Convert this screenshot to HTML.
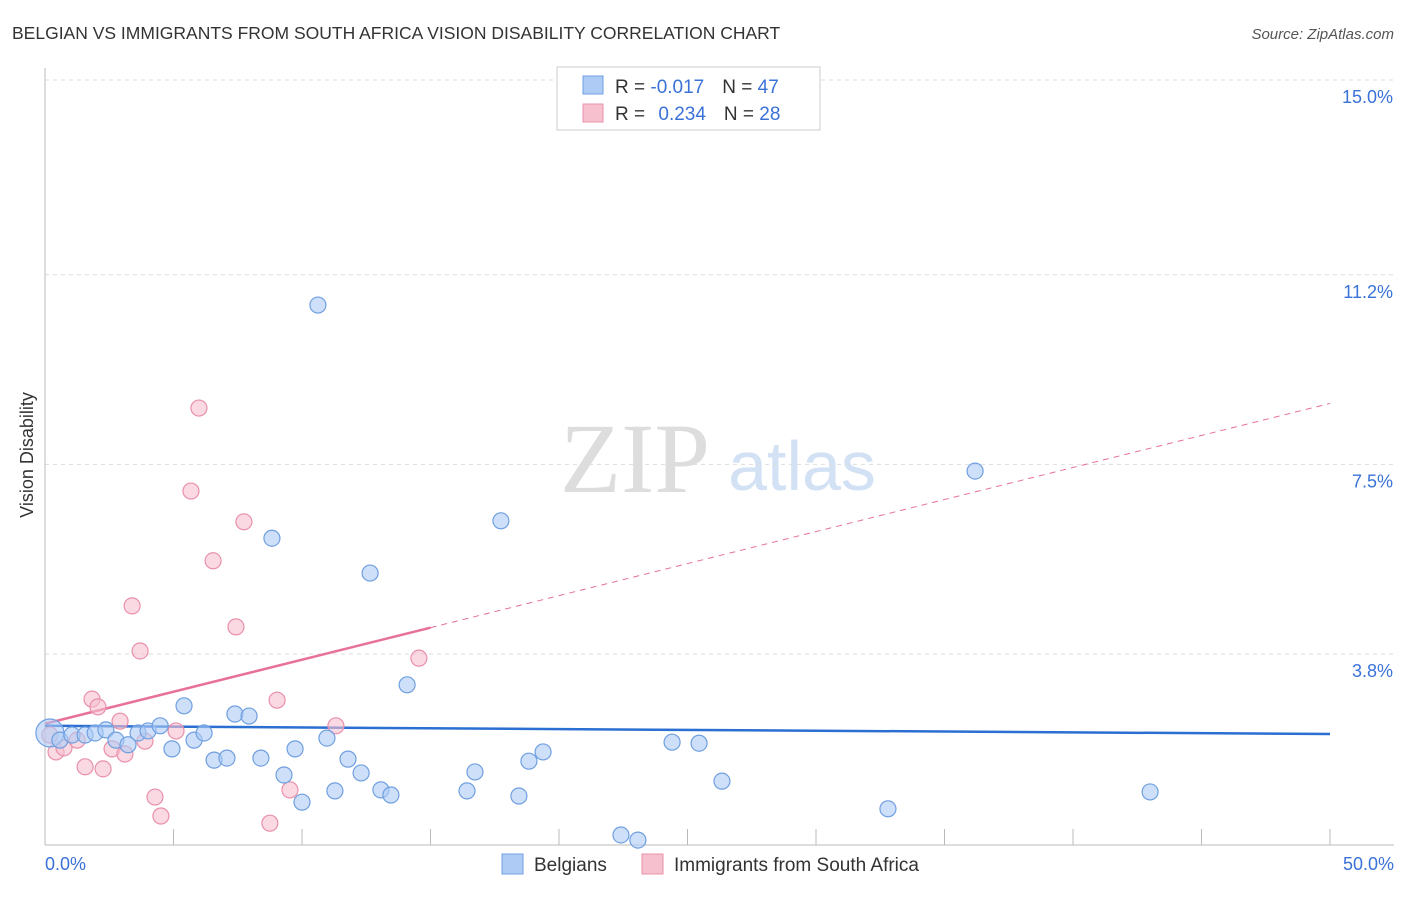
<!DOCTYPE html>
<html><head><meta charset="utf-8"><style>
body{margin:0;background:#fff;font-family:"Liberation Sans",sans-serif;}
svg text{font-family:"Liberation Sans",sans-serif;}
</style></head><body>
<svg id="chart" width="1406" height="892" viewBox="0 0 1406 892">
<text x="12" y="39" font-size="17.5" fill="#333">BELGIAN VS IMMIGRANTS FROM SOUTH AFRICA VISION DISABILITY CORRELATION CHART</text>
<text x="1394" y="39" font-size="15" fill="#555" font-style="italic" text-anchor="end">Source: ZipAtlas.com</text>
<text x="33" y="455" font-size="18" fill="#333" transform="rotate(-90 33 455)" text-anchor="middle">Vision Disability</text>
<g><text x="635" y="492" font-size="100" fill="#ddd" style="font-family:'Liberation Serif',serif" text-anchor="middle">ZIP</text><text x="802" y="490" font-size="70" fill="#d3e1f5" text-anchor="middle">atlas</text></g>
<g id="grid"></g><g id="axes"></g><g id="trends"></g><g id="pts"></g>
<g>
<rect x="557" y="67" width="263" height="63" fill="#fff" stroke="#ccc"/>
<rect x="583" y="76" width="20" height="18" fill="#aecbf5" stroke="#6f9fe0"/>
<rect x="583" y="104" width="20" height="18" fill="#f7c0cf" stroke="#e990ab"/>
<text x="615" y="93" font-size="19" fill="#333">R = <tspan fill="#3a72d8">-0.017</tspan><tspan dx="18">N = </tspan><tspan fill="#3a72d8">47</tspan></text>
<text x="615" y="120" font-size="19" fill="#333">R = <tspan fill="#3a72d8" dx="8">0.234</tspan><tspan dx="18">N = </tspan><tspan fill="#3a72d8">28</tspan></text>
</g>
<g>
<rect x="502" y="854" width="21" height="20" fill="#aecbf5" stroke="#6f9fe0"/>
<text x="534" y="871" font-size="19" fill="#333">Belgians</text>
<rect x="642" y="854" width="21" height="20" fill="#f7c0cf" stroke="#e990ab"/>
<text x="674" y="871" font-size="19" fill="#333">Immigrants from South Africa</text>
</g>
</svg>
<script>
const yTicks=[15,11.2,7.5,3.8];
const yTickLabels=["15.0%","11.2%","7.5%","3.8%"];
const xTickVals=[0,5,10,15,20,25,30,35,40,45,50];
const blueX=[0.19,0.58,1.05,1.56,1.95,2.37,2.76,3.23,3.62,4.01,4.48,4.94,5.41,5.80,6.19,6.58,7.08,7.39,7.94,8.40,8.83,9.30,9.73,10.00,10.62,10.97,11.28,11.79,12.30,12.65,13.07,13.46,14.09,16.42,16.73,17.74,18.44,18.83,19.38,22.41,23.07,24.40,25.45,26.34,32.80,36.19,43.00];
const blueY=[2.26,2.12,2.22,2.22,2.26,2.32,2.12,2.03,2.26,2.30,2.40,1.95,2.79,2.12,2.26,1.73,1.77,2.63,2.59,1.77,6.06,1.44,1.95,0.91,10.61,2.16,1.13,1.75,1.48,5.38,1.15,1.05,3.20,1.13,1.50,6.40,1.03,1.71,1.89,0.27,0.17,2.08,2.06,1.32,0.78,7.37,1.11];
const pinkX=[0.19,0.43,0.74,1.25,1.56,1.83,2.06,2.26,2.61,2.92,3.11,3.39,3.70,3.89,4.28,4.51,5.10,5.68,5.99,6.54,7.43,7.74,8.75,9.03,9.53,11.32,14.55];
const pinkY=[2.22,1.89,1.97,2.12,1.60,2.92,2.77,1.56,1.95,2.49,1.85,4.74,3.86,2.10,1.01,0.64,2.30,6.98,8.60,5.62,4.33,6.38,0.50,2.90,1.15,2.40,3.72];
const blueTrend=[2.40,2.24];
const pinkTrend=[2.44,8.69];
const NS="http://www.w3.org/2000/svg";
const xS=v=>45+v/50*1285;
const yS=v=>848.8-v*51.25;
function mk(t,a,p){const e=document.createElementNS(NS,t);for(const k in a)e.setAttribute(k,a[k]);p.appendChild(e);return e;}
const grid=document.getElementById('grid'),axes=document.getElementById('axes'),tr=document.getElementById('trends'),pts=document.getElementById('pts');
yTicks.forEach((v,i)=>{
 const l=mk('line',{x1:45,x2:1394,y1:yS(v),y2:yS(v),stroke:'#ddd','stroke-dasharray':'4 4'},grid);
 
 
 const t=mk('text',{x:1393,y:yS(v)+23,'font-size':18,fill:'#3a72d8','text-anchor':'end'},grid);
 t.textContent=yTickLabels[i];
 
 
});
const ya=mk('line',{x1:45,x2:45,y1:68,y2:845,stroke:'#bbb'},axes);


const xa=mk('line',{x1:45,x2:1394,y1:845,y2:845,stroke:'#bbb'},axes);


xTickVals.forEach(v=>{
 const t=mk('line',{x1:xS(v),x2:xS(v),y1:829,y2:845,stroke:'#bbb'},axes);
 
 
});
const xl0=mk('text',{x:45,y:870,'font-size':18,fill:'#3a72d8'},axes);xl0.textContent='0.0%';


const xl1=mk('text',{x:1394,y:870,'font-size':18,fill:'#3a72d8','text-anchor':'end'},axes);xl1.textContent='50.0%';


function pt(x,y,r,f,s,n){const c=mk('circle',{cx:xS(x),cy:yS(y),r:r,fill:f,'fill-opacity':0.6,stroke:s,'stroke-width':1.2},pts);
 
 }
pinkX.forEach((x,i)=>pt(x,pinkY[i],8,'#f7c0cf','#e990ab','point-south-africa'));
blueX.forEach((x,i)=>pt(x,blueY[i],i===0?14:8,'#aecbf5','#6f9fe0','point-belgian'));
const bl=mk('line',{x1:xS(0),y1:yS(blueTrend[0]),x2:xS(50),y2:yS(blueTrend[1]),stroke:'#2a6fd1','stroke-width':2.5},tr);


const ps=(pinkTrend[1]-pinkTrend[0])/50;
const pl=mk('line',{x1:xS(0),y1:yS(pinkTrend[0]),x2:xS(15),y2:yS(pinkTrend[0]+ps*15),stroke:'#e8719a','stroke-width':2.5},tr);


const pd=mk('line',{x1:xS(15),y1:yS(pinkTrend[0]+ps*15),x2:xS(50),y2:yS(pinkTrend[1]),stroke:'#e8719a','stroke-width':1,'stroke-dasharray':'6 5'},tr);


</script>
</body></html>
